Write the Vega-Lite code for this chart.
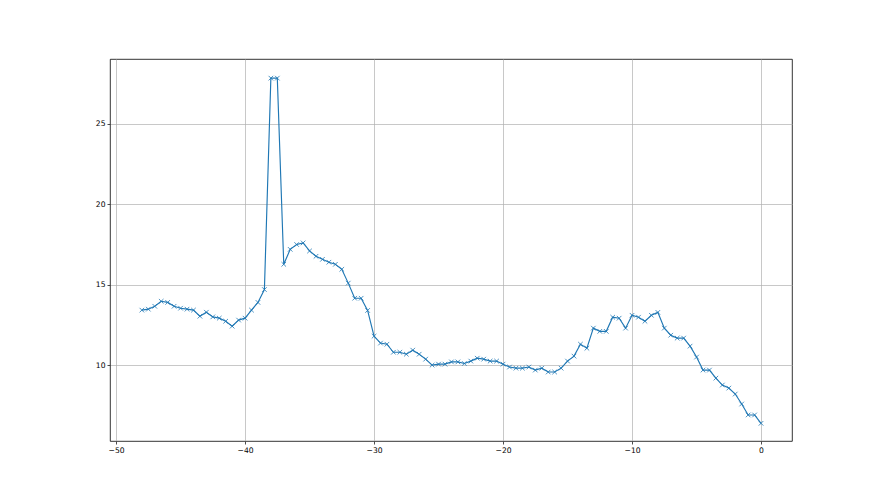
{
  "$schema": "https://vega.github.io/schema/vega-lite/v6.json",
  "width": 682,
  "height": 382,
  "autosize": {"type": "none"},
  "padding": {"left": 110, "top": 59, "right": 88, "bottom": 54},
  "background": "white",
  "config": {
    "view": {"stroke": "#000000", "strokeWidth": 0.8},
    "axis": {
      "domain": false,
      "grid": true,
      "gridColor": "#b0b0b0",
      "gridWidth": 0.7,
      "tickColor": "#000000",
      "tickSize": 3,
      "tickWidth": 0.7,
      "labelFont": "DejaVu Sans",
      "labelFontSize": 7.6,
      "labelColor": "#000000",
      "labelPadding": 2,
      "title": null
    }
  },
  "data": {
    "values": [
      {"x": -48, "y": 13.42}, {"x": -47.5, "y": 13.48}, {"x": -47, "y": 13.66}, {"x": -46.5, "y": 13.97},
      {"x": -46, "y": 13.9}, {"x": -45.5, "y": 13.66}, {"x": -45, "y": 13.54}, {"x": -44.5, "y": 13.48},
      {"x": -44, "y": 13.42}, {"x": -43.5, "y": 13.04}, {"x": -43, "y": 13.29}, {"x": -42.5, "y": 13.0},
      {"x": -42, "y": 12.92}, {"x": -41.5, "y": 12.73}, {"x": -41, "y": 12.42}, {"x": -40.5, "y": 12.8},
      {"x": -40, "y": 12.92}, {"x": -39.5, "y": 13.42}, {"x": -39, "y": 13.9}, {"x": -38.5, "y": 14.7},
      {"x": -38, "y": 27.85}, {"x": -37.5, "y": 27.85}, {"x": -37, "y": 16.27}, {"x": -36.5, "y": 17.2},
      {"x": -36, "y": 17.5}, {"x": -35.5, "y": 17.6}, {"x": -35, "y": 17.1}, {"x": -34.5, "y": 16.77},
      {"x": -34, "y": 16.58}, {"x": -33.5, "y": 16.4}, {"x": -33, "y": 16.27}, {"x": -32.5, "y": 15.96},
      {"x": -32, "y": 15.1}, {"x": -31.5, "y": 14.16}, {"x": -31, "y": 14.16}, {"x": -30.5, "y": 13.4},
      {"x": -30, "y": 11.8}, {"x": -29.5, "y": 11.37}, {"x": -29, "y": 11.3}, {"x": -28.5, "y": 10.8},
      {"x": -28, "y": 10.8}, {"x": -27.5, "y": 10.68}, {"x": -27, "y": 10.93}, {"x": -26.5, "y": 10.68},
      {"x": -26, "y": 10.37}, {"x": -25.5, "y": 10.0}, {"x": -25, "y": 10.06}, {"x": -24.5, "y": 10.06},
      {"x": -24, "y": 10.2}, {"x": -23.5, "y": 10.2}, {"x": -23, "y": 10.1}, {"x": -22.5, "y": 10.25},
      {"x": -22, "y": 10.43}, {"x": -21.5, "y": 10.37}, {"x": -21, "y": 10.25}, {"x": -20.5, "y": 10.25},
      {"x": -20, "y": 10.06}, {"x": -19.5, "y": 9.88}, {"x": -19, "y": 9.81}, {"x": -18.5, "y": 9.81},
      {"x": -18, "y": 9.88}, {"x": -17.5, "y": 9.69}, {"x": -17, "y": 9.81}, {"x": -16.5, "y": 9.57},
      {"x": -16, "y": 9.57}, {"x": -15.5, "y": 9.81}, {"x": -15, "y": 10.25}, {"x": -14.5, "y": 10.56},
      {"x": -14, "y": 11.3}, {"x": -13.5, "y": 11.05}, {"x": -13, "y": 12.3}, {"x": -12.5, "y": 12.1},
      {"x": -12, "y": 12.1}, {"x": -11.5, "y": 12.98}, {"x": -11, "y": 12.92}, {"x": -10.5, "y": 12.3},
      {"x": -10, "y": 13.1}, {"x": -9.5, "y": 12.98}, {"x": -9, "y": 12.73}, {"x": -8.5, "y": 13.1},
      {"x": -8, "y": 13.28}, {"x": -7.5, "y": 12.3}, {"x": -7, "y": 11.86}, {"x": -6.5, "y": 11.68},
      {"x": -6, "y": 11.68}, {"x": -5.5, "y": 11.18}, {"x": -5, "y": 10.5}, {"x": -4.5, "y": 9.69},
      {"x": -4, "y": 9.69}, {"x": -3.5, "y": 9.19}, {"x": -3, "y": 8.76}, {"x": -2.5, "y": 8.57},
      {"x": -2, "y": 8.2}, {"x": -1.5, "y": 7.58}, {"x": -1, "y": 6.9}, {"x": -0.5, "y": 6.9},
      {"x": 0, "y": 6.38}
    ]
  },
  "encoding": {
    "x": {
      "field": "x", "type": "quantitative",
      "scale": {"domain": [-50.47, 2.4], "nice": false, "zero": false},
      "axis": {"values": [-50, -40, -30, -20, -10, 0]}
    },
    "y": {
      "field": "y", "type": "quantitative",
      "scale": {"domain": [5.28, 29.04], "nice": false, "zero": false},
      "axis": {"values": [10, 15, 20, 25]}
    }
  },
  "layer": [
    {"mark": {"type": "line", "color": "#1f77b4", "strokeWidth": 1.15, "clip": true}},
    {"mark": {"type": "point", "shape": "M-1,-1L1,1M-1,1L1,-1", "filled": false, "stroke": "#1f77b4", "strokeWidth": 0.8, "size": 21, "opacity": 1, "clip": true}}
  ]
}
